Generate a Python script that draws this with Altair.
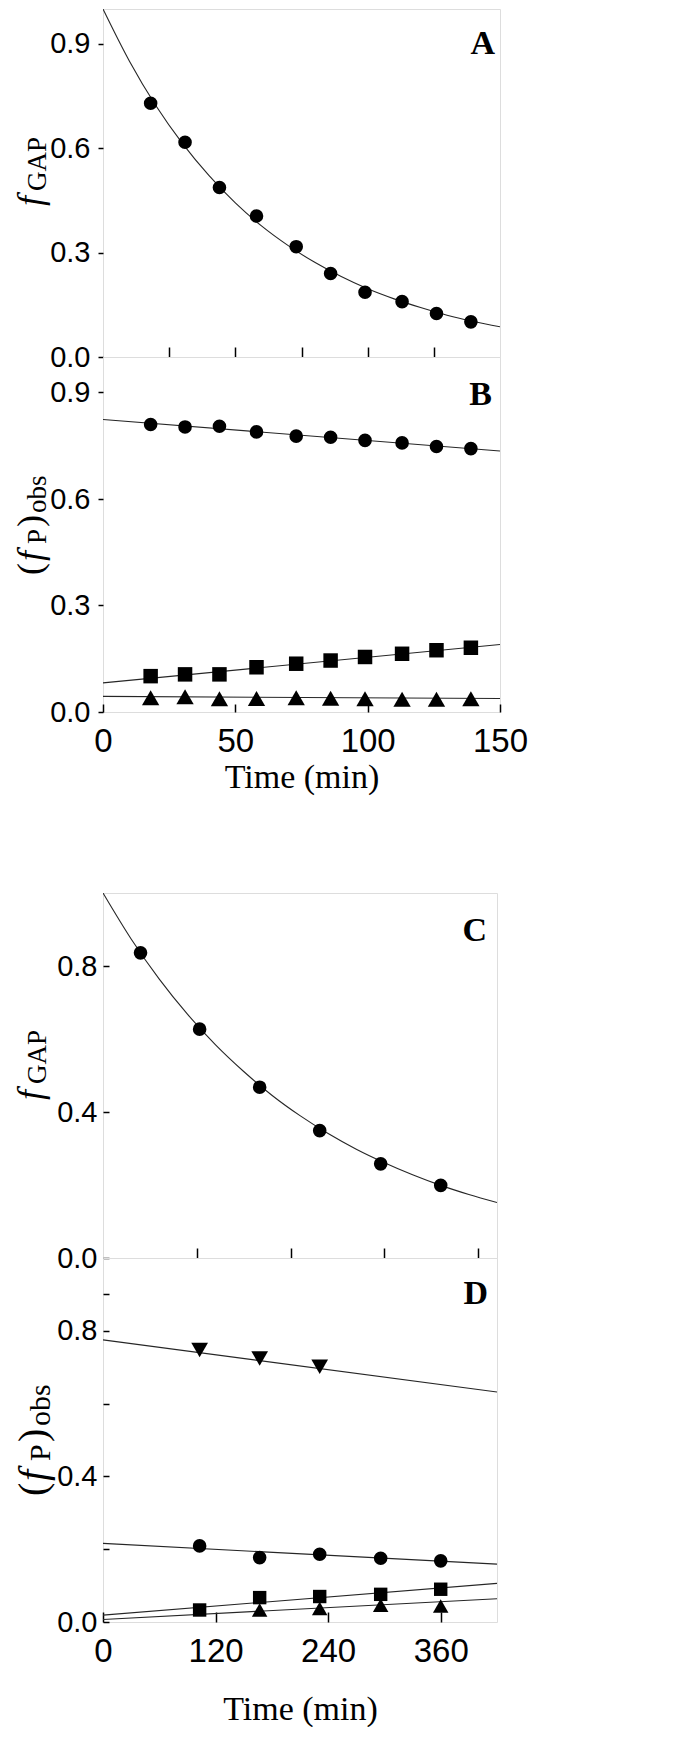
import altair as alt
import pandas as pd

NUM_FONT = "Liberation Sans Narrow, Arial Narrow, Liberation Sans"
SERIF = "Liberation Serif, Times New Roman, serif"

# ---------------- Panels A / B (time in min) ----------------
time_ab = [18, 31, 44, 58, 73, 86, 99, 113, 126, 139]
a_fgap = [0.729, 0.617, 0.487, 0.405, 0.317, 0.240, 0.186, 0.159, 0.125, 0.101]
a_fit_time = [0, 10, 20, 30, 40, 50, 60, 70, 80, 90, 100, 110, 120, 130, 140, 150]
a_fit = [1.000, 0.850, 0.722, 0.614, 0.522, 0.443, 0.376, 0.320, 0.272, 0.231,
         0.196, 0.167, 0.142, 0.120, 0.102, 0.087]

b_circle = [0.810, 0.803, 0.805, 0.789, 0.777, 0.774, 0.765, 0.758, 0.748, 0.742]
b_square = [0.101, 0.106, 0.106, 0.126, 0.136, 0.145, 0.155, 0.164, 0.174, 0.181]
b_triangle = [0.040, 0.043, 0.037, 0.038, 0.040, 0.039, 0.037, 0.036, 0.036, 0.037]
b_fit_time = [0, 150]
b_fit_circle = [0.824, 0.735]
b_fit_square = [0.082, 0.190]
b_fit_triangle = [0.044, 0.038]

# ---------------- Panels C / D ----------------
time_c = [40, 103, 167, 231, 296, 360]
c_fgap = [0.836, 0.627, 0.468, 0.349, 0.258, 0.199]
c_fit_time = [0, 30, 60, 90, 120, 150, 180, 210, 240, 270, 300, 330, 360, 390, 420]
c_fit = [1.000, 0.874, 0.764, 0.668, 0.584, 0.511, 0.446, 0.390, 0.341, 0.298,
         0.261, 0.228, 0.199, 0.174, 0.152]

time_d = [103, 167, 231, 296, 360]
time_d_down = [103, 167, 231]
time_d_up = [167, 231, 296, 360]
d_down = [0.747, 0.724, 0.701]
d_circle = [0.209, 0.177, 0.186, 0.175, 0.168]
d_square = [0.033, 0.067, 0.070, 0.076, 0.090]
d_up = [0.033, 0.037, 0.046, 0.044]
d_fit_time = [0, 420]
d_fit_down = [0.775, 0.632]
d_fit_circle = [0.216, 0.159]
d_fit_square = [0.019, 0.106]
d_fit_up = [0.007, 0.064]

# tick values / labels
ab_y_ticks = [0, 0.3, 0.6, 0.9]
a_x_ticks = [25, 50, 75, 100, 125]
b_x_ticks = [0, 50, 100, 150]
c_y_ticks = [0, 0.4, 0.8]
d_y_ticks = [0, 0.2, 0.4, 0.6, 0.8, 0.9]
c_x_ticks = [100, 200, 300, 400]
d_x_ticks = [0, 120, 240, 360]
x_title = "Time (min)"

Y_LABEL_SIZE = 29
X_LABEL_SIZE = 33


def axis_y(values, inward, label_expr=None):
    kw = dict(values=values, format='.1f', domain=False, grid=False, title=None,
              labelFont=NUM_FONT, labelFontSize=Y_LABEL_SIZE, labelColor='black',
              tickColor='black', tickWidth=1.5, labelFlush=False, labelOverlap=False)
    if inward:
        kw.update(offset=-6, tickSize=6, labelPadding=6)
    else:
        kw.update(tickSize=5, labelPadding=8)
    if label_expr:
        kw['labelExpr'] = label_expr
    return alt.Axis(**kw)


def axis_x(values, tick, labels, title=None, title_pad=0):
    kw = dict(values=values, domain=False, grid=False, offset=-tick, tickSize=tick,
              tickColor='black', tickWidth=1.5, labels=labels)
    if labels:
        kw.update(format='d', labelFont=NUM_FONT, labelFontSize=X_LABEL_SIZE, labelColor='black',
                  labelPadding=13, labelFlush=False, labelOverlap=False)
    if title:
        kw.update(title=title, titleFont=SERIF, titleFontSize=34, titleFontWeight='normal',
                  titleColor='black', titlePadding=title_pad)
    else:
        kw['title'] = None
    return alt.Axis(**kw)


def panel(xdom, xaxis, yaxis, lines, series, texts, w, h):
    def X():
        return alt.X('t:Q', scale=alt.Scale(domain=xdom, nice=False, zero=False), axis=xaxis)

    def Y():
        return alt.Y('v:Q', scale=alt.Scale(domain=[0, 1], nice=False, zero=False), axis=yaxis)

    layers = []
    for t, v in lines:
        df = pd.DataFrame({'t': t, 'v': v})
        layers.append(alt.Chart(df).mark_line(color='#262626', strokeWidth=1.1,
                                              interpolate='monotone', clip=True)
                      .encode(x=X(), y=Y()))
    for t, v, shape, size in series:
        df = pd.DataFrame({'t': t, 'v': v})
        layers.append(alt.Chart(df).mark_point(shape=shape, filled=True, size=size,
                                               color='black', opacity=1)
                      .encode(x=X(), y=Y()))
    for s, x, y, size, style, weight, angle, align in texts:
        layers.append(alt.Chart(pd.DataFrame({'s': [s]}))
                      .mark_text(font=SERIF, fontSize=size, fontStyle=style, fontWeight=weight,
                                 angle=angle, align=align, baseline='alphabetic', color='black')
                      .encode(text='s:N', x=alt.value(x), y=alt.value(y)))
    return alt.layer(*layers).properties(width=w, height=h)


W_AB, W_CD = 397, 394
H_A, H_B, H_C, H_D = 348, 355, 365, 364

# rotated y titles: main glyph size / subscript size and baselines (px left of the plot)
M, S = 36, 27
MB, SB = -60.6, -57

A = panel([0, 150],
          axis_x(a_x_ticks, 10, False),
          axis_y(ab_y_ticks, False),
          [(a_fit_time, a_fit)],
          [(time_ab, a_fgap, 'circle', 185)],
          [("f", MB, 197, M, 'italic', 'normal', 270, 'left'),
           ("GAP", SB, 182, S, 'normal', 'normal', 270, 'left'),
           ("A", 392, 45, 34, 'normal', 'bold', 0, 'right')],
          W_AB, H_A)

B = panel([0, 150],
          axis_x(b_x_ticks, 8, True, x_title, 2),
          axis_y(ab_y_ticks, False),
          [(b_fit_time, b_fit_circle), (b_fit_time, b_fit_square), (b_fit_time, b_fit_triangle)],
          [(time_ab, b_circle, 'circle', 185),
           (time_ab, b_square, 'square', 210),
           (time_ab, b_triangle, 'triangle-up', 300)],
          [("(", MB, 218, M, 'normal', 'normal', 270, 'left'),
           ("f", MB, 204, M, 'italic', 'normal', 270, 'left'),
           ("P", SB, 187, S, 'normal', 'normal', 270, 'left'),
           (")", MB, 170, M, 'normal', 'normal', 270, 'left'),
           ("obs", SB, 156, S, 'normal', 'normal', 270, 'left'),
           ("B", 389, 48, 34, 'normal', 'bold', 0, 'right')],
          W_AB, H_B)

C = panel([0, 420],
          axis_x(c_x_ticks, 10, False),
          axis_y(c_y_ticks, True),
          [(c_fit_time, c_fit)],
          [(time_c, c_fgap, 'circle', 185)],
          [("f", MB, 207, M, 'italic', 'normal', 270, 'left'),
           ("GAP", SB, 191, S, 'normal', 'normal', 270, 'left'),
           ("C", 384, 48, 34, 'normal', 'bold', 0, 'right')],
          W_CD, H_C)

DM, DS = 40, 30
DMB, DSB = -57.4, -53
D = panel([0, 420],
          axis_x(d_x_ticks, 10, True, x_title, 24),
          axis_y(d_y_ticks, True,
                 "datum.value == 0 || datum.value == 0.4 || datum.value == 0.8 ? datum.label : ''"),
          [(d_fit_time, d_fit_down), (d_fit_time, d_fit_circle),
           (d_fit_time, d_fit_square), (d_fit_time, d_fit_up)],
          [(time_d_down, d_down, 'triangle-down', 280),
           (time_d, d_circle, 'circle', 185),
           (time_d, d_square, 'square', 180),
           (time_d_up, d_up, 'triangle-up', 240)],
          [("(", DMB, 238, DM, 'normal', 'normal', 270, 'left'),
           ("f", DMB, 223, DM, 'italic', 'normal', 270, 'left'),
           ("P", DSB, 203, DS, 'normal', 'normal', 270, 'left'),
           (")", DMB, 184, DM, 'normal', 'normal', 270, 'left'),
           ("obs", DSB, 168, DS, 'normal', 'normal', 270, 'left'),
           ("D", 385, 46, 34, 'normal', 'bold', 0, 'right')],
          W_CD, H_D)

top = alt.vconcat(A, B, spacing=0, bounds='flush')
bottom = alt.vconcat(C, D, spacing=0, bounds='flush')

chart = (alt.vconcat(top, bottom, spacing=97)
         .properties(padding={'left': 4, 'top': 0, 'right': 0, 'bottom': 0})
         .configure_view(stroke='black', strokeWidth=2)
         .configure(background='white'))

chart.save("out.html", embed_options={"renderer": "svg", "actions": False})
